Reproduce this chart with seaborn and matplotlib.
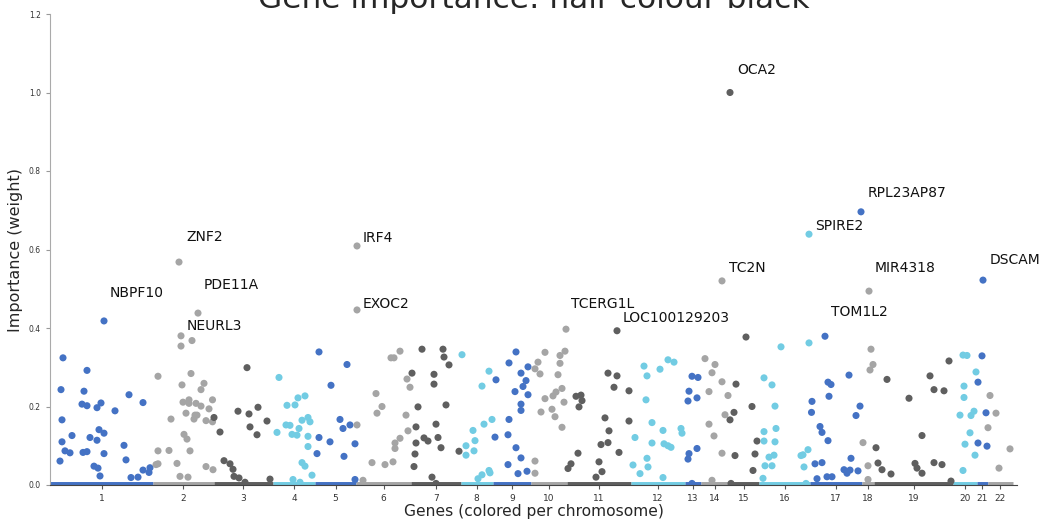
import numpy as np
import pandas as pd
import matplotlib
matplotlib.use("Agg")
import matplotlib.pyplot as plt
import seaborn as sns

# chromosomes laid out along the gene axis (end position of each block)
chromosomes = [str(i) for i in range(1, 23)]
chrom_end = [103, 163.5, 223, 265, 306, 361, 410.5, 443, 481, 516.5, 581,
             635, 651, 679, 709, 760, 812, 824, 903, 927, 937.5, 963]
n_genes = 967

# colour cycle used per chromosome
chrom_colors = ["#4472c4", "#a5a5a5", "#5f5f5f", "#72cce3"]

# genes with non-zero importance (position, weight)
gene_pos = [
    # chr1
    13, 11, 37, 34, 32, 37, 51, 47, 65, 79, 93, 12, 49, 54, 22, 40, 12, 47, 74, 15,
    20, 33, 37, 54, 10, 76, 44, 48, 50, 81, 88, 93, 100, 99,
    # chr2
    131, 142, 108, 141, 132, 154, 151, 133, 139, 139, 146, 151, 162.5, 159, 121, 136,
    145, 147, 144, 156, 162.5, 134, 137, 108, 119, 140, 106, 108, 127, 156, 163, 130, 138,
    # chr3
    197, 164, 170, 188, 199, 208, 217, 200, 207, 174, 180, 183, 184, 189, 195, 220,
    # chr4
    229, 237, 245, 248, 255, 252, 258, 260, 236, 240, 249, 227, 242, 247, 258, 258,
    252, 255, 262, 243, 250,
    # chr5
    269, 297, 281, 290, 293, 300, 269, 280, 305, 267, 294, 305,
    # chr6
    307, 313, 326, 332, 327, 322, 335, 343, 341, 344, 350, 345, 345, 350, 357, 360,
    356, 358,
    # chr7
    372, 393, 394, 399, 362, 384, 384, 368, 396, 366, 386, 374, 378, 388, 366, 391,
    365, 364, 382, 386, 409,
    # chr8
    412, 439, 432, 442, 434, 423, 425, 416, 416, 424, 439, 440, 432, 428,
    # chr9
    466, 459, 471, 446, 473, 476, 465, 478, 478, 471, 471, 459, 445, 458, 466, 471,
    458, 468, 477,
    # chr10
    495, 488, 485, 490, 510, 515, 510, 508, 512, 506, 503, 495, 514, 502, 491, 505,
    512, 485, 485,
    # chr11
    526, 531, 532, 529, 558, 567, 564, 579, 555, 579, 559, 551, 558, 528, 569, 521,
    518, 549, 552, 546,
    # chr12
    594, 597, 618, 624, 610, 596, 602, 613, 631, 632, 585, 602, 614, 618, 621, 597,
    598, 583, 590, 613,
    # chr13
    642, 648, 639, 647, 638, 647, 639, 638, 642,
    # chr14
    655, 665, 662, 672, 659, 678, 675, 659, 664, 672, 662,
    # chr15
    696, 686, 702, 684, 680, 707, 685, 705, 703, 681,
    # chr16
    731, 714, 722, 725, 726, 714, 714, 725, 724, 719, 715, 722, 713, 759, 758, 753,
    751, 754, 756,
    # chr17
    799, 778, 781, 779, 762, 761.5, 810, 806, 770, 772, 778, 801, 765, 772, 794, 800,
    797, 808, 767, 777, 782,
    # chr18
    821, 823, 820, 813, 818, 818,
    # chr19
    837, 826, 828, 832, 841, 859, 872, 865, 867, 872, 880, 884, 894, 899, 884, 892, 901,
    # chr20
    913, 917, 926, 914, 914, 910, 921, 924, 920, 915, 925, 913,
    # chr21
    932, 928, 936, 928, 937,
    # chr22
    940, 946, 938, 960, 949,
]
importance = [
    # chr1
    .324, .243, .292, .239, .206, .202, .209, .197, .189, .230, .210, .166, .141, .132,
    .126, .121, .110, .114, .101, .087, .082, .083, .085, .080, .061, .064, .048, .043,
    .023, .019, .020, .038, .044, .032,
    # chr2
    .354, .368, .277, .284, .255, .259, .243, .211, .217, .208, .208, .201, .217, .194,
    .168, .183, .178, .178, .168, .164, .161, .129, .117, .087, .088, .087, .052, .054,
    .055, .047, .039, .022, .020,
    # chr3
    .299, .172, .135, .188, .181, .198, .163, .148, .128, .062, .054, .040, .022, .018,
    .007, .015,
    # chr4
    .274, .203, .204, .222, .227, .165, .172, .161, .153, .152, .144, .134, .129, .127,
    .124, .098, .057, .048, .025, .014, .007,
    # chr5
    .339, .307, .254, .167, .144, .153, .121, .110, .105, .080, .073, .014,
    # chr6
    .153, .012, .233, .200, .183, .057, .052, .059, .324, .324, .341, .107, .093, .119,
    .270, .249, .178, .138,
    # chr7
    .346, .346, .326, .306, .285, .282, .257, .199, .204, .148, .155, .120, .112, .121,
    .107, .095, .079, .047, .020, .004, .086,
    # chr8
    .332, .290, .252, .167, .155, .139, .113, .100, .076, .087, .037, .031, .026, .016,
    # chr9
    .339, .311, .285, .268, .251, .266, .238, .230, .301, .206, .190, .167, .122, .128,
    .095, .069, .052, .029, .035,
    # chr10
    .338, .313, .296, .283, .330, .341, .310, .281, .246, .237, .227, .220, .211, .193,
    .186, .174, .147, .061, .030,
    # chr11
    .226, .229, .215, .199, .285, .278, .249, .240, .171, .163, .138, .103, .108, .081,
    .083, .054, .042, .059, .034, .020,
    # chr12
    .303, .278, .319, .313, .295, .217, .159, .139, .144, .132, .121, .107, .105, .100,
    .096, .068, .046, .051, .029, .019,
    # chr13
    .277, .274, .239, .222, .214, .093, .080, .066, .004,
    # chr14
    .322, .307, .286, .263, .238, .228, .179, .155, .125, .081, .012,
    # chr15
    .377, .257, .200, .185, .166, .112, .075, .079, .037, .004,
    # chr16
    .352, .273, .255, .201, .144, .136, .112, .110, .076, .071, .049, .049, .017, .362,
    .090, .077, .075, .046, .004,
    # chr17
    .280, .262, .256, .226, .213, .185, .201, .177, .149, .134, .113, .068, .054, .057,
    .039, .038, .030, .036, .016, .021, .021,
    # chr18
    .346, .307, .293, .108, .049, .014,
    # chr19
    .269, .095, .056, .039, .028, .221, .126, .055, .043, .030, .278, .243, .240, .316,
    .057, .052, .010,
    # chr20
    .331, .330, .288, .252, .223, .178, .177, .188, .133, .104, .076, .037,
    # chr21
    .329, .262, .184, .107, .099,
    # chr22
    .228, .183, .146, .092, .043,
]

# named top genes
top_genes = ["NBPF10", "ZNF2", "PDE11A", "NEURL3", "IRF4", "EXOC2", "TCERG1L",
             "LOC100129203", "TC2N", "OCA2", "SPIRE2", "TOM1L2", "RPL23AP87",
             "MIR4318", "DSCAM"]
top_pos = [54, 129, 148, 131, 307, 307, 516, 567, 672, 680, 759, 775, 811, 819, 933]
top_imp = [.418, .568, .438, .380, .609, .446, .397, .393, .520, 1.0, .639, .379,
           .696, .494, .522]

# label offsets in pixels (dx, dy)
label_offsets = [(6, 28), (7, 25), (6, 28), (6, 10), (6, 8), (6, 6), (5, 25), (6, 13),
                 (7, 13), (7, 22), (6, 8), (6, 24), (7, 19), (6, 23), (7, 20)]

chrom_start = [0] + chrom_end[:-1]
chrom_mid = [(a + b) / 2 for a, b in zip(chrom_start, chrom_end)]
pal = {c: chrom_colors[i % 4] for i, c in enumerate(chromosomes)}

df = pd.DataFrame({"pos": gene_pos + top_pos, "imp": importance + top_imp})
df["chrom"] = [chromosomes[i] for i in np.searchsorted(chrom_end, df["pos"])]

sns.set_style("ticks")
fig = plt.figure(figsize=(10.45, 5.23), dpi=100)
ax = fig.add_axes([50 / 1045, 38 / 523, 967 / 1045, 471 / 523])

# genes with zero weight: a dense band along the bottom of each chromosome
for c, a, b in zip(chromosomes, chrom_start, chrom_end):
    ax.hlines(0, a, b, color=pal[c], lw=5, zorder=1)

sns.scatterplot(data=df, x="pos", y="imp", hue="chrom", palette=pal, s=26,
                linewidth=0, legend=False, ax=ax, zorder=2)

for g, x, y, (dx, dy) in zip(top_genes, top_pos, top_imp, label_offsets):
    ax.annotate(g, xy=(x, y), xytext=(dx, dy), textcoords="offset pixels",
                ha="left", va="center", fontsize=10, color="#111111")

ax.set_xlim(0, n_genes)
ax.set_ylim(0, 1.2)
ax.set_yticks([0, 0.2, 0.4, 0.6, 0.8, 1.0, 1.2])
ax.set_xticks(chrom_mid, chromosomes)
ax.tick_params(axis="y", labelsize=5.5, length=3, color="#999999", labelcolor="#333333")
ax.tick_params(axis="x", labelsize=6.5, length=3, color="#555555", labelcolor="#333333")
sns.despine(ax=ax)
ax.spines["left"].set_color("#aaaaaa")
ax.spines["bottom"].set_color("#444444")
ax.spines["bottom"].set_zorder(3)

ax.set_xlabel("Genes (colored per chromosome)", fontsize=11.2, labelpad=1)
ax.set_ylabel("Importance (weight)", fontsize=11.5, labelpad=4)
# title sits partly above the canvas, as in the original figure
ax.set_title("Gene importance: hair colour black", fontsize=22.5, pad=1)

fig.savefig("out.png", dpi=100)
